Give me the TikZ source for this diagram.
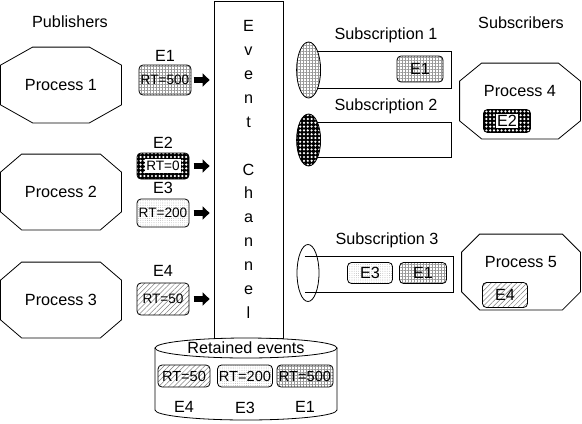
\documentclass[tikz,border=0pt]{standalone}
\usepackage{fontspec}
\setmainfont{Liberation Sans}
\usetikzlibrary{shapes.geometric,patterns.meta,arrows.meta,positioning}

\newcommand\procshape[2]{%
    \draw ([xshift=#2]#1.north west) -- ([xshift=-#2]#1.north east) -- ([yshift=-9pt]#1.north east)
        -- ([yshift=9pt]#1.south east) -- ([xshift=-#2]#1.south east) -- ([xshift=#2]#1.south west)
        -- ([yshift=9pt]#1.south west) -- ([yshift=-9pt]#1.north west) -- cycle;}

\begin{document}
\begin{tikzpicture}[x=0.5pt,y=-0.5pt,
        every node/.style={font=\fontsize{8.1}{9.7}\selectfont},
        proc/.style={inner sep=0pt, minimum width=60pt, minimum height=37.5pt},
        evbox/.style={draw, rounded corners=2pt, inner sep=0pt, minimum width=26pt, minimum height=13.5pt},
        evlbl/.style={inner sep=0pt},
        small/.style={font=\fontsize{6.8}{8}\selectfont},
        gridfill/.style={pattern={Hatch[angle=0,distance=1.5pt,line width=0.2pt]}, pattern color=black!40},
        checkfill/.style={preaction={fill=black}, pattern={Dots[distance=1.9pt,radius=0.62pt]}, pattern color=white},
        dotfill/.style={pattern={Dots[distance=1.1pt,radius=0.16pt]}, pattern color=black!50},
        linefill/.style={pattern={Lines[angle=45,distance=1.8pt,line width=0.25pt]}, pattern color=black!50},
        evarrow/.style={line width=3pt, -{Triangle[length=3.5pt,width=6.5pt]}, shorten >=2pt},
        subell/.style={ellipse, draw, inner sep=0pt, minimum width=12pt, minimum height=28pt},
        subbox/.style={inner sep=0pt, minimum width=71pt, minimum height=18pt}]
    \useasboundingbox (0,0) rectangle (582,423);
    \node (pub) at (70,22) {Publishers};
    \node (subs) at (521,23) {Subscribers};
    \node[proc] (p1) at (61,85) {Process 1};
    \procshape{p1}{16pt}
    \node[proc] (p2) at (61,192) {Process 2};
    \procshape{p2}{10.5pt}
    \node[proc] (p3) at (61,300) {Process 3};
    \procshape{p3}{10.5pt}
    \node[evbox, gridfill, small, minimum height=15pt] (e1) at (165,80) {RT=500};
    \node[evbox, checkfill, small, minimum height=13pt] (e2) at (163,166) {\fboxsep=0.9pt\colorbox{white}{RT=0}};
    \node[evbox, dotfill, small, minimum height=14pt] (e3) at (163,213) {RT=200};
    \node[evbox, linefill, small, minimum height=16pt] (e4) at (163,299) {RT=50};
    \node[evlbl, above=1.5pt of e1] (e1l) {E1};
    \node[evlbl, above=2pt of e2] (e2l) {E2};
    \node[evlbl, above=2.5pt of e3] (e3l) {E3};
    \node[evlbl, above=3pt of e4] (e4l) {E4};
    \node[draw, minimum width=34.5pt, minimum height=168.5pt, inner sep=0pt, align=center,
        font=\fontsize{8.1}{11.95}\selectfont] (chan) at (248.5,169.5)
        {E\\v\\e\\n\\t\\[11.95pt]C\\h\\a\\n\\n\\e\\l};
    \draw[evarrow] (e1 -| chan.west) ++(-10pt,0) -- (e1 -| chan.west);
    \draw[evarrow] (e2 -| chan.west) ++(-10pt,0) -- (e2 -| chan.west);
    \draw[evarrow] (e3 -| chan.west) ++(-10pt,0) -- (e3 -| chan.west);
    \draw[evarrow] (e4 -| chan.west) ++(-10pt,0) -- (e4 -| chan.west);
    \node[subbox] (s1box) at (380,70) {};
    \draw (s1box.north west) -- (s1box.north east) -- (s1box.south east) -- (s1box.south west);
    \node[subell, preaction={fill=white}, gridfill] (s1ell) at (s1box.west) {};
    \node[evbox, gridfill, minimum width=23pt, minimum height=13pt] (s1e) at (420,69) {E1};
    \node[evlbl, above=4pt of s1box, xshift=3pt] (s1l) {Subscription 1};
    \node[subbox, minimum height=17pt] (s2box) at (380,140) {};
    \draw (s2box.north west) -- (s2box.north east) -- (s2box.south east) -- (s2box.south west);
    \node[subell, checkfill, minimum height=26pt] (s2ell) at (s2box.west) {};
    \node[evlbl, above=4pt of s2box, xshift=3pt] (s2l) {Subscription 2};
    \node[subbox, minimum width=74pt, minimum height=17.5pt] (s3box) at (379,274.5) {};
    \draw (s3box.north west) -- (s3box.north east) -- (s3box.south east) -- (s3box.south west);
    \node[subell, minimum width=11pt, minimum height=28.5pt] (s3ell) at (308,273) {};
    \node[evbox, dotfill, minimum width=22.5pt, minimum height=10.5pt] (s3a) at (370,273) {E3};
    \node[evbox, gridfill, minimum width=23.5pt, minimum height=10.5pt] (s3b) at (423,273) {E1};
    \node[evlbl, above=4pt of s3box, xshift=4pt] (s3l) {Subscription 3};
    \node[proc] (p4) at (520,101) {};
    \procshape{p4}{11pt}
    \node (p4t) at (520,91) {Process 4};
    \node[evbox, checkfill, minimum width=23.5pt, minimum height=11.5pt] (p4e) at (507,121)
        {\fboxsep=0.6pt\colorbox{white}{E2}};
    \node[proc, minimum width=59pt] (p5) at (521,272) {};
    \procshape{p5}{9pt}
    \node (p5t) at (521,262) {Process 5};
    \node[evbox, linefill, minimum width=22.5pt, minimum height=12.5pt] (p5e) at (505,295) {E4};
    \draw[fill=white] (155,348) -- (155,410) arc[start angle=180,end angle=360,x radius=45.5pt,y radius=5pt] -- (337,348);
    \draw[fill=white] (246,348) ellipse [x radius=45.5pt, y radius=5pt];
    \node (ret) at (246,348) {Retained events};
    \node[evbox, linefill, font=\fontsize{7.3}{8}\selectfont, minimum height=11pt] (c4) at (184,376) {RT=50};
    \node[evbox, dotfill, font=\fontsize{7.3}{8}\selectfont, minimum width=27.5pt, minimum height=11pt] (c3) at (245,376) {RT=200};
    \node[evbox, gridfill, font=\fontsize{7.3}{8}\selectfont, minimum width=28pt, minimum height=11pt] (c1) at (305,376) {RT=500};
    \node[evlbl, below=7pt of c4] (c4l) {E4};
    \node[evlbl, below=7pt of c3] (c3l) {E3};
    \node[evlbl, below=7pt of c1] (c1l) {E1};
\end{tikzpicture}
\end{document}
